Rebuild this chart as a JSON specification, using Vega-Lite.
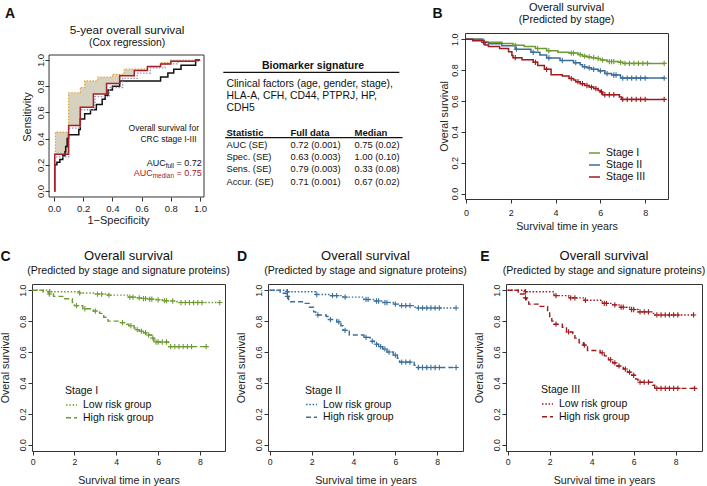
{
"$schema": "https://vega.github.io/schema/vega-lite/v6.json",
"padding": {"left": -2, "top": 1, "right": 2, "bottom": 0},
"background": "white",
"config": {
  "font": "Liberation Sans",
  "view": {"stroke": "#333", "strokeWidth": 1},
  "axis": {"domain": false, "grid": false, "tickColor": "#333", "tickSize": 4, "tickWidth": 1, "labelColor": "#222", "titleColor": "#222", "titleFontWeight": "normal", "labelFlush": false, "labelOverlap": false, "labelSeparation": -50, "labelBound": false, "labelFontSize": 9, "titleFontSize": 10.7},
  "axisY": {"labelAngle": -90, "labelAlign": "center", "labelBaseline": "alphabetic"},
  "title": {"fontWeight": "normal", "color": "#111", "subtitleColor": "#111", "frame": "group", "anchor": "middle"},
  "legend": {"labelFontSize": 10.5, "titleFontSize": 10.5, "titleFontWeight": "normal", "symbolType": "stroke", "symbolStrokeWidth": 1.5, "symbolSize": 121, "padding": 0, "rowPadding": 0.8, "labelOffset": 5, "titlePadding": 2, "labelColor": "#111", "titleColor": "#111"},
  "text": {"color": "#111"}
},
"datasets": {
  "roc": [
    {"k":"full","x":0,"y":0},{"k":"full","x":0.005,"y":0.2},{"k":"full","x":0.02,"y":0.22},{"k":"full","x":0.04,"y":0.24},{"k":"full","x":0.06,"y":0.27},{"k":"full","x":0.075,"y":0.3},{"k":"full","x":0.08,"y":0.34},{"k":"full","x":0.09,"y":0.4},{"k":"full","x":0.1,"y":0.43},{"k":"full","x":0.17,"y":0.47},{"k":"full","x":0.18,"y":0.55},{"k":"full","x":0.21,"y":0.59},{"k":"full","x":0.25,"y":0.62},{"k":"full","x":0.29,"y":0.66},{"k":"full","x":0.33,"y":0.7},{"k":"full","x":0.35,"y":0.73},{"k":"full","x":0.37,"y":0.77},{"k":"full","x":0.4,"y":0.8},{"k":"full","x":0.45,"y":0.84},{"k":"full","x":0.73,"y":0.87},{"k":"full","x":0.78,"y":0.9},{"k":"full","x":0.82,"y":0.93},{"k":"full","x":0.87,"y":0.96},{"k":"full","x":0.97,"y":1},{"k":"full","x":1,"y":1},
    {"k":"median","x":0,"y":0},{"k":"median","x":0.005,"y":0.28},{"k":"median","x":0.1,"y":0.5},{"k":"median","x":0.18,"y":0.64},{"k":"median","x":0.27,"y":0.74},{"k":"median","x":0.36,"y":0.82},{"k":"median","x":0.45,"y":0.88},{"k":"median","x":0.55,"y":0.92},{"k":"median","x":0.64,"y":0.95},{"k":"median","x":0.73,"y":0.97},{"k":"median","x":0.8,"y":0.99},{"k":"median","x":0.97,"y":1},{"k":"median","x":1,"y":1},
    {"k":"alt","x":0,"y":0},{"k":"alt","x":0.005,"y":0.26},{"k":"alt","x":0.1,"y":0.48},{"k":"alt","x":0.18,"y":0.62},{"k":"alt","x":0.28,"y":0.72},{"k":"alt","x":0.38,"y":0.79},{"k":"alt","x":0.47,"y":0.86},{"k":"alt","x":0.57,"y":0.9},{"k":"alt","x":0.66,"y":0.94},{"k":"alt","x":0.76,"y":0.97},{"k":"alt","x":0.85,"y":0.99},{"k":"alt","x":1,"y":1}
  ],
  "band": [
    {"x":0.005,"lo":0.28,"hi":0.28},{"x":0.01,"lo":0.28,"hi":0.45},{"x":0.1,"lo":0.5,"hi":0.75},{"x":0.18,"lo":0.64,"hi":0.79},{"x":0.21,"lo":0.64,"hi":0.84},{"x":0.27,"lo":0.74,"hi":0.84},{"x":0.3,"lo":0.74,"hi":0.87},{"x":0.36,"lo":0.82,"hi":0.87},{"x":0.4,"lo":0.82,"hi":0.89},{"x":0.45,"lo":0.88,"hi":0.89},{"x":0.48,"lo":0.88,"hi":0.93},{"x":0.55,"lo":0.92,"hi":0.93},{"x":0.64,"lo":0.95,"hi":0.95},{"x":0.73,"lo":0.97,"hi":0.98},{"x":0.8,"lo":0.99,"hi":1},{"x":0.97,"lo":1,"hi":1},{"x":1,"lo":1,"hi":1}
  ],
  "tbl": [
    {"r":1,"c":0,"label":"Clinical factors (age, gender, stage),","kind":"text"},
    {"r":2,"c":0,"label":"HLA-A, CFH, CD44, PTPRJ, HP,","kind":"text"},
    {"r":3,"c":0,"label":"CDH5","kind":"text"},
    {"r":5,"c":0,"label":"Statistic","kind":"head"},{"r":5,"c":1,"label":"Full data","kind":"head"},{"r":5,"c":2,"label":"Median","kind":"head"},
    {"r":6,"c":0,"label":"AUC (SE)","kind":"cell"},{"r":6,"c":1,"label":"0.72 (0.001)","kind":"cell"},{"r":6,"c":2,"label":"0.75 (0.02)","kind":"cell"},
    {"r":7,"c":0,"label":"Spec. (SE)","kind":"cell"},{"r":7,"c":1,"label":"0.63 (0.003)","kind":"cell"},{"r":7,"c":2,"label":"1.00 (0.10)","kind":"cell"},
    {"r":8,"c":0,"label":"Sens. (SE)","kind":"cell"},{"r":8,"c":1,"label":"0.79 (0.003)","kind":"cell"},{"r":8,"c":2,"label":"0.33 (0.08)","kind":"cell"},
    {"r":9,"c":0,"label":"Accur. (SE)","kind":"cell"},{"r":9,"c":1,"label":"0.71 (0.001)","kind":"cell"},{"r":9,"c":2,"label":"0.67 (0.02)","kind":"cell"}
  ],
  "surv": [
    {"p":"B","g":"Stage I","t":0,"s":1,"c":0},{"p":"B","g":"Stage I","t":0.7,"s":0.985,"c":0},{"p":"B","g":"Stage I","t":0.8,"s":0.985,"c":1},{"p":"B","g":"Stage I","t":0.9,"s":0.98,"c":0},{"p":"B","g":"Stage I","t":1.6,"s":0.972,"c":0},{"p":"B","g":"Stage I","t":2.1,"s":0.96,"c":0},{"p":"B","g":"Stage I","t":2.2,"s":0.96,"c":1},{"p":"B","g":"Stage I","t":2.6,"s":0.953,"c":0},{"p":"B","g":"Stage I","t":3.1,"s":0.94,"c":0},{"p":"B","g":"Stage I","t":3.2,"s":0.94,"c":1},{"p":"B","g":"Stage I","t":3.6,"s":0.925,"c":0},{"p":"B","g":"Stage I","t":3.7,"s":0.925,"c":1},{"p":"B","g":"Stage I","t":4.1,"s":0.915,"c":0},{"p":"B","g":"Stage I","t":4.6,"s":0.91,"c":0},{"p":"B","g":"Stage I","t":4.7,"s":0.91,"c":1},{"p":"B","g":"Stage I","t":4.8,"s":0.91,"c":1},{"p":"B","g":"Stage I","t":5.0,"s":0.9,"c":0},{"p":"B","g":"Stage I","t":5.1,"s":0.9,"c":1},{"p":"B","g":"Stage I","t":5.2,"s":0.89,"c":0},{"p":"B","g":"Stage I","t":5.3,"s":0.89,"c":1},{"p":"B","g":"Stage I","t":5.4,"s":0.885,"c":0},{"p":"B","g":"Stage I","t":5.5,"s":0.885,"c":1},{"p":"B","g":"Stage I","t":5.6,"s":0.88,"c":0},{"p":"B","g":"Stage I","t":5.7,"s":0.88,"c":1},{"p":"B","g":"Stage I","t":5.8,"s":0.875,"c":0},{"p":"B","g":"Stage I","t":5.9,"s":0.875,"c":1},{"p":"B","g":"Stage I","t":6.0,"s":0.865,"c":0},{"p":"B","g":"Stage I","t":6.1,"s":0.865,"c":1},{"p":"B","g":"Stage I","t":6.3,"s":0.855,"c":0},{"p":"B","g":"Stage I","t":6.4,"s":0.855,"c":1},{"p":"B","g":"Stage I","t":6.5,"s":0.855,"c":1},{"p":"B","g":"Stage I","t":6.6,"s":0.855,"c":1},{"p":"B","g":"Stage I","t":6.8,"s":0.85,"c":0},{"p":"B","g":"Stage I","t":6.9,"s":0.85,"c":1},{"p":"B","g":"Stage I","t":7.0,"s":0.843,"c":0},{"p":"B","g":"Stage I","t":7.1,"s":0.843,"c":1},{"p":"B","g":"Stage I","t":7.3,"s":0.843,"c":1},{"p":"B","g":"Stage I","t":7.5,"s":0.843,"c":1},{"p":"B","g":"Stage I","t":7.7,"s":0.843,"c":1},{"p":"B","g":"Stage I","t":7.9,"s":0.843,"c":1},{"p":"B","g":"Stage I","t":8.1,"s":0.843,"c":1},{"p":"B","g":"Stage I","t":8.85,"s":0.843,"c":1},
    {"p":"B","g":"Stage II","t":0,"s":1,"c":0},{"p":"B","g":"Stage II","t":0.75,"s":0.98,"c":0},{"p":"B","g":"Stage II","t":0.8,"s":0.98,"c":1},{"p":"B","g":"Stage II","t":1.0,"s":0.97,"c":0},{"p":"B","g":"Stage II","t":1.6,"s":0.958,"c":0},{"p":"B","g":"Stage II","t":2.2,"s":0.935,"c":0},{"p":"B","g":"Stage II","t":2.25,"s":0.935,"c":1},{"p":"B","g":"Stage II","t":2.9,"s":0.915,"c":0},{"p":"B","g":"Stage II","t":3.0,"s":0.915,"c":1},{"p":"B","g":"Stage II","t":3.3,"s":0.897,"c":0},{"p":"B","g":"Stage II","t":3.6,"s":0.878,"c":0},{"p":"B","g":"Stage II","t":3.7,"s":0.878,"c":1},{"p":"B","g":"Stage II","t":4.2,"s":0.862,"c":0},{"p":"B","g":"Stage II","t":4.3,"s":0.862,"c":1},{"p":"B","g":"Stage II","t":4.8,"s":0.848,"c":0},{"p":"B","g":"Stage II","t":4.9,"s":0.848,"c":1},{"p":"B","g":"Stage II","t":5.1,"s":0.835,"c":0},{"p":"B","g":"Stage II","t":5.2,"s":0.822,"c":0},{"p":"B","g":"Stage II","t":5.3,"s":0.822,"c":1},{"p":"B","g":"Stage II","t":5.4,"s":0.815,"c":0},{"p":"B","g":"Stage II","t":5.5,"s":0.815,"c":1},{"p":"B","g":"Stage II","t":5.6,"s":0.805,"c":0},{"p":"B","g":"Stage II","t":5.7,"s":0.805,"c":1},{"p":"B","g":"Stage II","t":5.9,"s":0.795,"c":0},{"p":"B","g":"Stage II","t":6.0,"s":0.795,"c":1},{"p":"B","g":"Stage II","t":6.2,"s":0.777,"c":0},{"p":"B","g":"Stage II","t":6.3,"s":0.777,"c":1},{"p":"B","g":"Stage II","t":6.5,"s":0.768,"c":0},{"p":"B","g":"Stage II","t":6.6,"s":0.768,"c":1},{"p":"B","g":"Stage II","t":6.7,"s":0.768,"c":1},{"p":"B","g":"Stage II","t":6.9,"s":0.748,"c":0},{"p":"B","g":"Stage II","t":7.0,"s":0.748,"c":1},{"p":"B","g":"Stage II","t":7.2,"s":0.748,"c":1},{"p":"B","g":"Stage II","t":7.4,"s":0.748,"c":1},{"p":"B","g":"Stage II","t":7.6,"s":0.748,"c":1},{"p":"B","g":"Stage II","t":7.8,"s":0.748,"c":1},{"p":"B","g":"Stage II","t":8.0,"s":0.748,"c":1},{"p":"B","g":"Stage II","t":8.85,"s":0.748,"c":1},
    {"p":"B","g":"Stage III","t":0,"s":1,"c":0},{"p":"B","g":"Stage III","t":0.3,"s":0.99,"c":0},{"p":"B","g":"Stage III","t":0.75,"s":0.978,"c":0},{"p":"B","g":"Stage III","t":0.8,"s":0.978,"c":1},{"p":"B","g":"Stage III","t":0.85,"s":0.962,"c":0},{"p":"B","g":"Stage III","t":1.0,"s":0.952,"c":0},{"p":"B","g":"Stage III","t":1.5,"s":0.94,"c":0},{"p":"B","g":"Stage III","t":1.9,"s":0.918,"c":0},{"p":"B","g":"Stage III","t":2.05,"s":0.895,"c":0},{"p":"B","g":"Stage III","t":2.1,"s":0.88,"c":0},{"p":"B","g":"Stage III","t":2.2,"s":0.88,"c":1},{"p":"B","g":"Stage III","t":2.5,"s":0.866,"c":0},{"p":"B","g":"Stage III","t":3.0,"s":0.85,"c":0},{"p":"B","g":"Stage III","t":3.1,"s":0.85,"c":1},{"p":"B","g":"Stage III","t":3.2,"s":0.83,"c":0},{"p":"B","g":"Stage III","t":3.5,"s":0.805,"c":0},{"p":"B","g":"Stage III","t":3.6,"s":0.805,"c":1},{"p":"B","g":"Stage III","t":3.8,"s":0.77,"c":0},{"p":"B","g":"Stage III","t":4.3,"s":0.762,"c":0},{"p":"B","g":"Stage III","t":4.6,"s":0.745,"c":0},{"p":"B","g":"Stage III","t":4.7,"s":0.745,"c":1},{"p":"B","g":"Stage III","t":4.8,"s":0.735,"c":0},{"p":"B","g":"Stage III","t":4.9,"s":0.725,"c":0},{"p":"B","g":"Stage III","t":5.0,"s":0.725,"c":1},{"p":"B","g":"Stage III","t":5.1,"s":0.712,"c":0},{"p":"B","g":"Stage III","t":5.2,"s":0.712,"c":1},{"p":"B","g":"Stage III","t":5.3,"s":0.7,"c":0},{"p":"B","g":"Stage III","t":5.4,"s":0.7,"c":1},{"p":"B","g":"Stage III","t":5.5,"s":0.69,"c":0},{"p":"B","g":"Stage III","t":5.6,"s":0.69,"c":1},{"p":"B","g":"Stage III","t":5.7,"s":0.68,"c":0},{"p":"B","g":"Stage III","t":5.8,"s":0.68,"c":1},{"p":"B","g":"Stage III","t":5.9,"s":0.668,"c":0},{"p":"B","g":"Stage III","t":6.0,"s":0.658,"c":0},{"p":"B","g":"Stage III","t":6.05,"s":0.658,"c":1},{"p":"B","g":"Stage III","t":6.1,"s":0.64,"c":0},{"p":"B","g":"Stage III","t":6.2,"s":0.64,"c":1},{"p":"B","g":"Stage III","t":6.4,"s":0.64,"c":1},{"p":"B","g":"Stage III","t":6.6,"s":0.64,"c":1},{"p":"B","g":"Stage III","t":6.85,"s":0.625,"c":0},{"p":"B","g":"Stage III","t":6.95,"s":0.61,"c":0},{"p":"B","g":"Stage III","t":7.0,"s":0.61,"c":1},{"p":"B","g":"Stage III","t":7.2,"s":0.61,"c":1},{"p":"B","g":"Stage III","t":7.4,"s":0.61,"c":1},{"p":"B","g":"Stage III","t":7.6,"s":0.61,"c":1},{"p":"B","g":"Stage III","t":7.8,"s":0.61,"c":1},{"p":"B","g":"Stage III","t":8.0,"s":0.61,"c":1},{"p":"B","g":"Stage III","t":8.85,"s":0.61,"c":1},
    {"p":"C","g":"Low risk group","t":0,"s":1,"c":0},{"p":"C","g":"Low risk group","t":0.8,"s":0.99,"c":0},{"p":"C","g":"Low risk group","t":0.82,"s":0.99,"c":1},{"p":"C","g":"Low risk group","t":2.2,"s":0.982,"c":0},{"p":"C","g":"Low risk group","t":2.25,"s":0.982,"c":1},{"p":"C","g":"Low risk group","t":3.0,"s":0.975,"c":0},{"p":"C","g":"Low risk group","t":3.1,"s":0.975,"c":1},{"p":"C","g":"Low risk group","t":3.3,"s":0.975,"c":1},{"p":"C","g":"Low risk group","t":3.6,"s":0.968,"c":0},{"p":"C","g":"Low risk group","t":3.65,"s":0.968,"c":1},{"p":"C","g":"Low risk group","t":4.6,"s":0.955,"c":0},{"p":"C","g":"Low risk group","t":4.65,"s":0.955,"c":1},{"p":"C","g":"Low risk group","t":4.8,"s":0.955,"c":1},{"p":"C","g":"Low risk group","t":5.0,"s":0.95,"c":0},{"p":"C","g":"Low risk group","t":5.1,"s":0.95,"c":1},{"p":"C","g":"Low risk group","t":5.2,"s":0.946,"c":0},{"p":"C","g":"Low risk group","t":5.3,"s":0.946,"c":1},{"p":"C","g":"Low risk group","t":5.4,"s":0.946,"c":1},{"p":"C","g":"Low risk group","t":5.5,"s":0.942,"c":0},{"p":"C","g":"Low risk group","t":5.6,"s":0.942,"c":1},{"p":"C","g":"Low risk group","t":5.7,"s":0.942,"c":1},{"p":"C","g":"Low risk group","t":5.9,"s":0.938,"c":0},{"p":"C","g":"Low risk group","t":6.0,"s":0.938,"c":1},{"p":"C","g":"Low risk group","t":6.2,"s":0.932,"c":0},{"p":"C","g":"Low risk group","t":6.3,"s":0.932,"c":1},{"p":"C","g":"Low risk group","t":6.4,"s":0.932,"c":1},{"p":"C","g":"Low risk group","t":6.6,"s":0.93,"c":0},{"p":"C","g":"Low risk group","t":6.7,"s":0.93,"c":1},{"p":"C","g":"Low risk group","t":6.9,"s":0.925,"c":0},{"p":"C","g":"Low risk group","t":7.0,"s":0.92,"c":0},{"p":"C","g":"Low risk group","t":7.1,"s":0.92,"c":1},{"p":"C","g":"Low risk group","t":7.3,"s":0.92,"c":1},{"p":"C","g":"Low risk group","t":7.5,"s":0.92,"c":1},{"p":"C","g":"Low risk group","t":7.7,"s":0.92,"c":1},{"p":"C","g":"Low risk group","t":7.9,"s":0.92,"c":1},{"p":"C","g":"Low risk group","t":8.1,"s":0.92,"c":1},{"p":"C","g":"Low risk group","t":8.95,"s":0.92,"c":1},
    {"p":"C","g":"High risk group","t":0,"s":1,"c":0},{"p":"C","g":"High risk group","t":0.5,"s":0.99,"c":0},{"p":"C","g":"High risk group","t":0.78,"s":0.975,"c":0},{"p":"C","g":"High risk group","t":0.8,"s":0.975,"c":1},{"p":"C","g":"High risk group","t":1.0,"s":0.96,"c":0},{"p":"C","g":"High risk group","t":1.5,"s":0.945,"c":0},{"p":"C","g":"High risk group","t":1.9,"s":0.92,"c":0},{"p":"C","g":"High risk group","t":2.0,"s":0.9,"c":0},{"p":"C","g":"High risk group","t":2.1,"s":0.9,"c":1},{"p":"C","g":"High risk group","t":2.4,"s":0.88,"c":0},{"p":"C","g":"High risk group","t":2.5,"s":0.88,"c":1},{"p":"C","g":"High risk group","t":2.9,"s":0.865,"c":0},{"p":"C","g":"High risk group","t":3.0,"s":0.865,"c":1},{"p":"C","g":"High risk group","t":3.2,"s":0.85,"c":0},{"p":"C","g":"High risk group","t":3.4,"s":0.825,"c":0},{"p":"C","g":"High risk group","t":3.6,"s":0.8,"c":0},{"p":"C","g":"High risk group","t":4.2,"s":0.79,"c":0},{"p":"C","g":"High risk group","t":4.3,"s":0.79,"c":1},{"p":"C","g":"High risk group","t":4.5,"s":0.78,"c":0},{"p":"C","g":"High risk group","t":4.6,"s":0.77,"c":0},{"p":"C","g":"High risk group","t":4.7,"s":0.77,"c":1},{"p":"C","g":"High risk group","t":4.85,"s":0.755,"c":0},{"p":"C","g":"High risk group","t":4.95,"s":0.745,"c":0},{"p":"C","g":"High risk group","t":5.0,"s":0.745,"c":1},{"p":"C","g":"High risk group","t":5.1,"s":0.735,"c":0},{"p":"C","g":"High risk group","t":5.2,"s":0.735,"c":1},{"p":"C","g":"High risk group","t":5.3,"s":0.725,"c":0},{"p":"C","g":"High risk group","t":5.4,"s":0.725,"c":1},{"p":"C","g":"High risk group","t":5.5,"s":0.71,"c":0},{"p":"C","g":"High risk group","t":5.55,"s":0.71,"c":1},{"p":"C","g":"High risk group","t":5.7,"s":0.69,"c":0},{"p":"C","g":"High risk group","t":5.75,"s":0.69,"c":1},{"p":"C","g":"High risk group","t":5.8,"s":0.665,"c":0},{"p":"C","g":"High risk group","t":5.9,"s":0.665,"c":1},{"p":"C","g":"High risk group","t":6.0,"s":0.665,"c":1},{"p":"C","g":"High risk group","t":6.2,"s":0.665,"c":1},{"p":"C","g":"High risk group","t":6.4,"s":0.665,"c":1},{"p":"C","g":"High risk group","t":6.5,"s":0.635,"c":0},{"p":"C","g":"High risk group","t":6.6,"s":0.635,"c":1},{"p":"C","g":"High risk group","t":6.8,"s":0.635,"c":1},{"p":"C","g":"High risk group","t":7.0,"s":0.635,"c":1},{"p":"C","g":"High risk group","t":7.2,"s":0.635,"c":1},{"p":"C","g":"High risk group","t":7.4,"s":0.635,"c":1},{"p":"C","g":"High risk group","t":7.6,"s":0.635,"c":1},{"p":"C","g":"High risk group","t":8.3,"s":0.635,"c":1},
    {"p":"D","g":"Low risk group","t":0,"s":1,"c":0},{"p":"D","g":"Low risk group","t":0.8,"s":0.99,"c":0},{"p":"D","g":"Low risk group","t":0.85,"s":0.99,"c":1},{"p":"D","g":"Low risk group","t":2.2,"s":0.972,"c":0},{"p":"D","g":"Low risk group","t":2.25,"s":0.972,"c":1},{"p":"D","g":"Low risk group","t":2.9,"s":0.965,"c":0},{"p":"D","g":"Low risk group","t":3.0,"s":0.965,"c":1},{"p":"D","g":"Low risk group","t":3.2,"s":0.965,"c":1},{"p":"D","g":"Low risk group","t":3.5,"s":0.955,"c":0},{"p":"D","g":"Low risk group","t":3.6,"s":0.955,"c":1},{"p":"D","g":"Low risk group","t":4.5,"s":0.94,"c":0},{"p":"D","g":"Low risk group","t":4.6,"s":0.94,"c":1},{"p":"D","g":"Low risk group","t":4.7,"s":0.94,"c":1},{"p":"D","g":"Low risk group","t":5.0,"s":0.93,"c":0},{"p":"D","g":"Low risk group","t":5.1,"s":0.93,"c":1},{"p":"D","g":"Low risk group","t":5.2,"s":0.93,"c":1},{"p":"D","g":"Low risk group","t":5.4,"s":0.92,"c":0},{"p":"D","g":"Low risk group","t":5.5,"s":0.92,"c":1},{"p":"D","g":"Low risk group","t":5.6,"s":0.92,"c":1},{"p":"D","g":"Low risk group","t":5.9,"s":0.91,"c":0},{"p":"D","g":"Low risk group","t":6.0,"s":0.91,"c":1},{"p":"D","g":"Low risk group","t":6.2,"s":0.9,"c":0},{"p":"D","g":"Low risk group","t":6.3,"s":0.9,"c":1},{"p":"D","g":"Low risk group","t":6.5,"s":0.9,"c":1},{"p":"D","g":"Low risk group","t":6.7,"s":0.9,"c":1},{"p":"D","g":"Low risk group","t":6.9,"s":0.89,"c":0},{"p":"D","g":"Low risk group","t":7.0,"s":0.885,"c":0},{"p":"D","g":"Low risk group","t":7.1,"s":0.885,"c":1},{"p":"D","g":"Low risk group","t":7.3,"s":0.885,"c":1},{"p":"D","g":"Low risk group","t":7.5,"s":0.885,"c":1},{"p":"D","g":"Low risk group","t":7.7,"s":0.885,"c":1},{"p":"D","g":"Low risk group","t":7.9,"s":0.885,"c":1},{"p":"D","g":"Low risk group","t":8.1,"s":0.885,"c":1},{"p":"D","g":"Low risk group","t":8.9,"s":0.885,"c":1},
    {"p":"D","g":"High risk group","t":0,"s":1,"c":0},{"p":"D","g":"High risk group","t":0.5,"s":0.98,"c":0},{"p":"D","g":"High risk group","t":0.8,"s":0.96,"c":0},{"p":"D","g":"High risk group","t":0.85,"s":0.96,"c":1},{"p":"D","g":"High risk group","t":0.9,"s":0.94,"c":0},{"p":"D","g":"High risk group","t":1.0,"s":0.925,"c":0},{"p":"D","g":"High risk group","t":1.6,"s":0.915,"c":0},{"p":"D","g":"High risk group","t":1.9,"s":0.89,"c":0},{"p":"D","g":"High risk group","t":2.1,"s":0.86,"c":0},{"p":"D","g":"High risk group","t":2.2,"s":0.84,"c":0},{"p":"D","g":"High risk group","t":2.3,"s":0.84,"c":1},{"p":"D","g":"High risk group","t":2.7,"s":0.83,"c":0},{"p":"D","g":"High risk group","t":2.8,"s":0.81,"c":0},{"p":"D","g":"High risk group","t":2.9,"s":0.81,"c":1},{"p":"D","g":"High risk group","t":3.2,"s":0.795,"c":0},{"p":"D","g":"High risk group","t":3.3,"s":0.795,"c":1},{"p":"D","g":"High risk group","t":3.4,"s":0.77,"c":0},{"p":"D","g":"High risk group","t":3.5,"s":0.74,"c":0},{"p":"D","g":"High risk group","t":3.6,"s":0.74,"c":1},{"p":"D","g":"High risk group","t":3.8,"s":0.71,"c":0},{"p":"D","g":"High risk group","t":4.5,"s":0.695,"c":0},{"p":"D","g":"High risk group","t":4.6,"s":0.695,"c":1},{"p":"D","g":"High risk group","t":4.8,"s":0.67,"c":0},{"p":"D","g":"High risk group","t":4.9,"s":0.67,"c":1},{"p":"D","g":"High risk group","t":5.0,"s":0.65,"c":0},{"p":"D","g":"High risk group","t":5.1,"s":0.65,"c":1},{"p":"D","g":"High risk group","t":5.2,"s":0.635,"c":0},{"p":"D","g":"High risk group","t":5.3,"s":0.635,"c":1},{"p":"D","g":"High risk group","t":5.4,"s":0.62,"c":0},{"p":"D","g":"High risk group","t":5.5,"s":0.62,"c":1},{"p":"D","g":"High risk group","t":5.6,"s":0.6,"c":0},{"p":"D","g":"High risk group","t":5.7,"s":0.6,"c":1},{"p":"D","g":"High risk group","t":5.9,"s":0.58,"c":0},{"p":"D","g":"High risk group","t":6.0,"s":0.58,"c":1},{"p":"D","g":"High risk group","t":6.1,"s":0.56,"c":0},{"p":"D","g":"High risk group","t":6.2,"s":0.535,"c":0},{"p":"D","g":"High risk group","t":6.3,"s":0.535,"c":1},{"p":"D","g":"High risk group","t":6.5,"s":0.535,"c":1},{"p":"D","g":"High risk group","t":6.7,"s":0.535,"c":1},{"p":"D","g":"High risk group","t":6.9,"s":0.515,"c":0},{"p":"D","g":"High risk group","t":7.0,"s":0.5,"c":0},{"p":"D","g":"High risk group","t":7.1,"s":0.5,"c":1},{"p":"D","g":"High risk group","t":7.3,"s":0.5,"c":1},{"p":"D","g":"High risk group","t":7.5,"s":0.5,"c":1},{"p":"D","g":"High risk group","t":7.7,"s":0.5,"c":1},{"p":"D","g":"High risk group","t":7.9,"s":0.5,"c":1},{"p":"D","g":"High risk group","t":8.1,"s":0.5,"c":1},{"p":"D","g":"High risk group","t":8.9,"s":0.5,"c":1},
    {"p":"E","g":"Low risk group","t":0,"s":1,"c":0},{"p":"E","g":"Low risk group","t":0.8,"s":0.99,"c":0},{"p":"E","g":"Low risk group","t":0.85,"s":0.99,"c":1},{"p":"E","g":"Low risk group","t":2.2,"s":0.965,"c":0},{"p":"E","g":"Low risk group","t":2.3,"s":0.965,"c":1},{"p":"E","g":"Low risk group","t":2.9,"s":0.95,"c":0},{"p":"E","g":"Low risk group","t":3.0,"s":0.95,"c":1},{"p":"E","g":"Low risk group","t":3.2,"s":0.95,"c":1},{"p":"E","g":"Low risk group","t":3.6,"s":0.935,"c":0},{"p":"E","g":"Low risk group","t":3.7,"s":0.935,"c":1},{"p":"E","g":"Low risk group","t":4.5,"s":0.915,"c":0},{"p":"E","g":"Low risk group","t":4.6,"s":0.915,"c":1},{"p":"E","g":"Low risk group","t":4.7,"s":0.915,"c":1},{"p":"E","g":"Low risk group","t":5.0,"s":0.905,"c":0},{"p":"E","g":"Low risk group","t":5.1,"s":0.905,"c":1},{"p":"E","g":"Low risk group","t":5.3,"s":0.89,"c":0},{"p":"E","g":"Low risk group","t":5.4,"s":0.89,"c":1},{"p":"E","g":"Low risk group","t":5.5,"s":0.89,"c":1},{"p":"E","g":"Low risk group","t":5.8,"s":0.875,"c":0},{"p":"E","g":"Low risk group","t":5.9,"s":0.875,"c":1},{"p":"E","g":"Low risk group","t":6.0,"s":0.875,"c":1},{"p":"E","g":"Low risk group","t":6.2,"s":0.86,"c":0},{"p":"E","g":"Low risk group","t":6.3,"s":0.86,"c":1},{"p":"E","g":"Low risk group","t":6.5,"s":0.86,"c":1},{"p":"E","g":"Low risk group","t":6.7,"s":0.86,"c":1},{"p":"E","g":"Low risk group","t":6.9,"s":0.85,"c":0},{"p":"E","g":"Low risk group","t":7.0,"s":0.84,"c":0},{"p":"E","g":"Low risk group","t":7.1,"s":0.84,"c":1},{"p":"E","g":"Low risk group","t":7.3,"s":0.84,"c":1},{"p":"E","g":"Low risk group","t":7.5,"s":0.84,"c":1},{"p":"E","g":"Low risk group","t":7.7,"s":0.84,"c":1},{"p":"E","g":"Low risk group","t":7.9,"s":0.84,"c":1},{"p":"E","g":"Low risk group","t":8.1,"s":0.84,"c":1},{"p":"E","g":"Low risk group","t":8.85,"s":0.84,"c":1},
    {"p":"E","g":"High risk group","t":0,"s":1,"c":0},{"p":"E","g":"High risk group","t":0.5,"s":0.975,"c":0},{"p":"E","g":"High risk group","t":0.8,"s":0.95,"c":0},{"p":"E","g":"High risk group","t":0.85,"s":0.95,"c":1},{"p":"E","g":"High risk group","t":0.9,"s":0.93,"c":0},{"p":"E","g":"High risk group","t":1.0,"s":0.91,"c":0},{"p":"E","g":"High risk group","t":1.5,"s":0.895,"c":0},{"p":"E","g":"High risk group","t":1.9,"s":0.86,"c":0},{"p":"E","g":"High risk group","t":2.0,"s":0.83,"c":0},{"p":"E","g":"High risk group","t":2.1,"s":0.8,"c":0},{"p":"E","g":"High risk group","t":2.2,"s":0.78,"c":0},{"p":"E","g":"High risk group","t":2.3,"s":0.78,"c":1},{"p":"E","g":"High risk group","t":2.6,"s":0.76,"c":0},{"p":"E","g":"High risk group","t":2.8,"s":0.73,"c":0},{"p":"E","g":"High risk group","t":2.9,"s":0.73,"c":1},{"p":"E","g":"High risk group","t":3.1,"s":0.72,"c":0},{"p":"E","g":"High risk group","t":3.2,"s":0.69,"c":0},{"p":"E","g":"High risk group","t":3.4,"s":0.66,"c":0},{"p":"E","g":"High risk group","t":3.6,"s":0.645,"c":0},{"p":"E","g":"High risk group","t":3.65,"s":0.645,"c":1},{"p":"E","g":"High risk group","t":3.8,"s":0.61,"c":0},{"p":"E","g":"High risk group","t":4.4,"s":0.595,"c":0},{"p":"E","g":"High risk group","t":4.5,"s":0.595,"c":1},{"p":"E","g":"High risk group","t":4.6,"s":0.575,"c":0},{"p":"E","g":"High risk group","t":4.8,"s":0.55,"c":0},{"p":"E","g":"High risk group","t":4.9,"s":0.55,"c":1},{"p":"E","g":"High risk group","t":5.0,"s":0.53,"c":0},{"p":"E","g":"High risk group","t":5.1,"s":0.53,"c":1},{"p":"E","g":"High risk group","t":5.2,"s":0.51,"c":0},{"p":"E","g":"High risk group","t":5.3,"s":0.51,"c":1},{"p":"E","g":"High risk group","t":5.5,"s":0.49,"c":0},{"p":"E","g":"High risk group","t":5.6,"s":0.49,"c":1},{"p":"E","g":"High risk group","t":5.7,"s":0.47,"c":0},{"p":"E","g":"High risk group","t":5.8,"s":0.47,"c":1},{"p":"E","g":"High risk group","t":5.9,"s":0.45,"c":0},{"p":"E","g":"High risk group","t":6.0,"s":0.45,"c":1},{"p":"E","g":"High risk group","t":6.1,"s":0.425,"c":0},{"p":"E","g":"High risk group","t":6.2,"s":0.405,"c":0},{"p":"E","g":"High risk group","t":6.3,"s":0.405,"c":1},{"p":"E","g":"High risk group","t":6.5,"s":0.405,"c":1},{"p":"E","g":"High risk group","t":6.7,"s":0.405,"c":1},{"p":"E","g":"High risk group","t":6.9,"s":0.385,"c":0},{"p":"E","g":"High risk group","t":7.0,"s":0.365,"c":0},{"p":"E","g":"High risk group","t":7.1,"s":0.365,"c":1},{"p":"E","g":"High risk group","t":7.3,"s":0.365,"c":1},{"p":"E","g":"High risk group","t":7.5,"s":0.365,"c":1},{"p":"E","g":"High risk group","t":7.7,"s":0.365,"c":1},{"p":"E","g":"High risk group","t":7.9,"s":0.365,"c":1},{"p":"E","g":"High risk group","t":8.1,"s":0.365,"c":1},{"p":"E","g":"High risk group","t":8.9,"s":0.365,"c":1}
  ]
},
"spacing": 17,
"resolve": {"scale": {"color": "independent", "strokeDash": "independent"}, "legend": {"color": "independent", "strokeDash": "independent"}},
"vconcat": [
 {
  "bounds": "flush",
  "spacing": 18,
  "resolve": {"scale": {"color": "independent"}, "legend": {"color": "independent"}},
  "hconcat": [
  {
    "width": 172, "height": 167,
    "view": {"stroke": null},
    "title": {"text": "5-year overall survival", "subtitle": "(Cox regression)", "frame": "group", "fontSize": 11.8, "subtitleFontSize": 10.3, "subtitlePadding": 1, "offset": -41, "dx": 9},
    "layer": [
      {"data": {"name": "band"}, "mark": {"type": "area", "interpolate": "step-after", "color": "#d7d1bf", "opacity": 1},
       "encoding": {
         "x": {"field": "x", "type": "quantitative", "title": "1−Specificity", "scale": {"domain": [-0.1507, 1.0274], "nice": false, "zero": false},
               "axis": {"values": [0, 0.2, 0.4, 0.6, 0.8, 1], "tickCount": 6, "format": ".1f", "labelOverlap": false, "offset": -3, "labelFontSize": 9.5, "titleFontSize": 11, "labelPadding": 2, "titlePadding": 2}},
         "y": {"field": "lo", "type": "quantitative", "title": "Sensitivity", "scale": {"domain": [-0.0687, 1.206], "nice": false, "zero": false},
               "axis": {"values": [0, 0.2, 0.4, 0.6, 0.8, 1], "tickCount": 6, "format": ".1f", "labelOverlap": false, "offset": -17, "labelFontSize": 9.5, "titleFontSize": 11, "labelPadding": 2, "titlePadding": 3}},
         "y2": {"field": "hi"}}},
      {"data": {"name": "band"}, "mark": {"type": "line", "interpolate": "step-after", "color": "#e0a33b", "strokeDash": [1.5, 1.5], "strokeWidth": 1.2},
       "encoding": {
         "x": {"field": "x", "type": "quantitative", "title": "1−Specificity", "scale": {"domain": [-0.1507, 1.0274], "nice": false, "zero": false}},
         "y": {"field": "hi", "type": "quantitative", "title": "Sensitivity", "scale": {"domain": [-0.0687, 1.206], "nice": false, "zero": false}}}},
      {"data": {"name": "roc"}, "transform": [{"filter": "datum.k == 'full'"}], "mark": {"type": "line", "interpolate": "step-after", "color": "#111", "strokeWidth": 1.5},
       "encoding": {
         "x": {"field": "x", "type": "quantitative", "title": "1−Specificity", "scale": {"domain": [-0.1507, 1.0274], "nice": false, "zero": false}},
         "y": {"field": "y", "type": "quantitative", "title": "Sensitivity", "scale": {"domain": [-0.0687, 1.206], "nice": false, "zero": false}}}},
      {"data": {"name": "roc"}, "transform": [{"filter": "datum.k == 'alt'"}], "mark": {"type": "line", "interpolate": "step-after", "color": "#9a94b4", "strokeDash": [1.5, 1.5], "strokeWidth": 1.3},
       "encoding": {
         "x": {"field": "x", "type": "quantitative", "title": "1−Specificity", "scale": {"domain": [-0.1507, 1.0274], "nice": false, "zero": false}},
         "y": {"field": "y", "type": "quantitative", "title": "Sensitivity", "scale": {"domain": [-0.0687, 1.206], "nice": false, "zero": false}}}},
      {"data": {"name": "roc"}, "transform": [{"filter": "datum.k == 'median'"}], "mark": {"type": "line", "interpolate": "step-after", "color": "#a8202a", "strokeWidth": 1.5},
       "encoding": {
         "x": {"field": "x", "type": "quantitative", "title": "1−Specificity", "scale": {"domain": [-0.1507, 1.0274], "nice": false, "zero": false}},
         "y": {"field": "y", "type": "quantitative", "title": "Sensitivity", "scale": {"domain": [-0.0687, 1.206], "nice": false, "zero": false}}}},
      {"data": {"values": [{}]}, "mark": {"type": "rect", "filled": false, "color": "#333", "strokeWidth": 1},
       "encoding": {
         "x": {"datum": -0.034, "type": "quantitative", "scale": {"domain": [-0.1507, 1.0274], "nice": false, "zero": false}},
         "x2": {"datum": 1.0274},
         "y": {"datum": -0.0458, "type": "quantitative", "scale": {"domain": [-0.0687, 1.206], "nice": false, "zero": false}},
         "y2": {"datum": 1.038}}},
      {"data": {"values": [{}]}, "mark": {"type": "text", "text": "A", "fontWeight": "bold", "fontSize": 14, "align": "center", "baseline": "middle", "opacity": 0},
       "encoding": {
         "x": {"datum": -0.332, "type": "quantitative", "scale": {"domain": [-0.1507, 1.0274], "nice": false, "zero": false}},
         "y": {"datum": 1.351, "type": "quantitative", "scale": {"domain": [-0.0687, 1.206], "nice": false, "zero": false}}}},
      {"data": {"values": [{}]}, "mark": {"type": "text", "text": "A", "fontWeight": "bold", "fontSize": 14, "align": "center", "baseline": "middle"},
       "encoding": {
         "x": {"datum": -0.301, "type": "quantitative", "scale": {"domain": [-0.1507, 1.0274], "nice": false, "zero": false}},
         "y": {"datum": 1.351, "type": "quantitative", "scale": {"domain": [-0.0687, 1.206], "nice": false, "zero": false}}}},
      {"data": {"values": [{}]}, "mark": {"type": "text", "text": "Overall survival for", "fontSize": 8.5, "align": "right", "baseline": "middle"},
       "encoding": {
         "x": {"datum": 0.993, "type": "quantitative", "scale": {"domain": [-0.1507, 1.0274], "nice": false, "zero": false}},
         "y": {"datum": 0.479, "type": "quantitative", "scale": {"domain": [-0.0687, 1.206], "nice": false, "zero": false}}}},
      {"data": {"values": [{}]}, "mark": {"type": "text", "text": "CRC stage I-III", "fontSize": 8.5, "align": "right", "baseline": "middle"},
       "encoding": {
         "x": {"datum": 0.977, "type": "quantitative", "scale": {"domain": [-0.1507, 1.0274], "nice": false, "zero": false}},
         "y": {"datum": 0.395, "type": "quantitative", "scale": {"domain": [-0.0687, 1.206], "nice": false, "zero": false}}}},
      {"data": {"values": [{}]}, "mark": {"type": "text", "text": "AUC", "fontSize": 9, "align": "right", "baseline": "middle"},
       "encoding": {
         "x": {"datum": 0.765, "type": "quantitative", "scale": {"domain": [-0.1507, 1.0274], "nice": false, "zero": false}},
         "y": {"datum": 0.211, "type": "quantitative", "scale": {"domain": [-0.0687, 1.206], "nice": false, "zero": false}}}},
      {"data": {"values": [{}]}, "mark": {"type": "text", "text": "full", "fontSize": 6.5, "align": "right", "baseline": "middle"},
       "encoding": {
         "x": {"datum": 0.822, "type": "quantitative", "scale": {"domain": [-0.1507, 1.0274], "nice": false, "zero": false}},
         "y": {"datum": 0.193, "type": "quantitative", "scale": {"domain": [-0.0687, 1.206], "nice": false, "zero": false}}}},
      {"data": {"values": [{}]}, "mark": {"type": "text", "text": "= 0.72", "fontSize": 9, "align": "right", "baseline": "middle"},
       "encoding": {
         "x": {"datum": 1.012, "type": "quantitative", "scale": {"domain": [-0.1507, 1.0274], "nice": false, "zero": false}},
         "y": {"datum": 0.211, "type": "quantitative", "scale": {"domain": [-0.0687, 1.206], "nice": false, "zero": false}}}},
      {"data": {"values": [{}]}, "mark": {"type": "text", "text": "AUC", "fontSize": 9, "align": "right", "baseline": "middle", "color": "#a8202a"},
       "encoding": {
         "x": {"datum": 0.676, "type": "quantitative", "scale": {"domain": [-0.1507, 1.0274], "nice": false, "zero": false}},
         "y": {"datum": 0.135, "type": "quantitative", "scale": {"domain": [-0.0687, 1.206], "nice": false, "zero": false}}}},
      {"data": {"values": [{}]}, "mark": {"type": "text", "text": "median", "fontSize": 6.5, "align": "right", "baseline": "middle", "color": "#a8202a"},
       "encoding": {
         "x": {"datum": 0.822, "type": "quantitative", "scale": {"domain": [-0.1507, 1.0274], "nice": false, "zero": false}},
         "y": {"datum": 0.117, "type": "quantitative", "scale": {"domain": [-0.0687, 1.206], "nice": false, "zero": false}}}},
      {"data": {"values": [{}]}, "mark": {"type": "text", "text": "= 0.75", "fontSize": 9, "align": "right", "baseline": "middle", "color": "#a8202a"},
       "encoding": {
         "x": {"datum": 1.012, "type": "quantitative", "scale": {"domain": [-0.1507, 1.0274], "nice": false, "zero": false}},
         "y": {"datum": 0.135, "type": "quantitative", "scale": {"domain": [-0.0687, 1.206], "nice": false, "zero": false}}}}
    ]
  },
  {
    "width": 225, "height": 167,
    "view": {"stroke": null},
    "title": {"text": "Biomarker signature", "frame": "group", "fontWeight": "bold", "fontSize": 10.5, "offset": -38, "dx": -21.5},
    "layer": [
      {"data": {"name": "tbl"}, "transform": [{"filter": "datum.kind == 'text'"}], "mark": {"type": "text", "align": "left", "baseline": "middle", "fontSize": 10.4},
       "encoding": {
         "x": {"field": "c", "type": "quantitative", "scale": {"domain": [-0.0703, 3.445], "nice": false, "zero": false}, "axis": null},
         "y": {"field": "r", "type": "quantitative", "scale": {"domain": [-3.18, 10.51], "reverse": true, "nice": false, "zero": false}, "axis": null},
         "text": {"field": "label"}}},
      {"data": {"name": "tbl"}, "transform": [{"filter": "datum.kind == 'cell'"}], "mark": {"type": "text", "align": "left", "baseline": "middle", "fontSize": 9.3},
       "encoding": {
         "x": {"field": "c", "type": "quantitative", "scale": {"domain": [-0.0703, 3.445], "nice": false, "zero": false}, "axis": null},
         "y": {"field": "r", "type": "quantitative", "scale": {"domain": [-3.18, 10.51], "reverse": true, "nice": false, "zero": false}, "axis": null},
         "text": {"field": "label"}}},
      {"data": {"name": "tbl"}, "transform": [{"filter": "datum.kind == 'head'"}], "mark": {"type": "text", "align": "left", "baseline": "middle", "fontWeight": "bold", "fontSize": 9.5},
       "encoding": {
         "x": {"field": "c", "type": "quantitative", "scale": {"domain": [-0.0703, 3.445], "nice": false, "zero": false}, "axis": null},
         "y": {"field": "r", "type": "quantitative", "scale": {"domain": [-3.18, 10.51], "reverse": true, "nice": false, "zero": false}, "axis": null},
         "text": {"field": "label"}}},
      {"data": {"values": [{}]}, "mark": {"type": "rule", "color": "#111", "strokeWidth": 1.3},
       "encoding": {
         "x": {"datum": -0.05, "type": "quantitative", "scale": {"domain": [-0.0703, 3.445], "nice": false, "zero": false}, "axis": null},
         "x2": {"datum": 2.7},
         "y": {"datum": 0.04, "type": "quantitative", "scale": {"domain": [-3.18, 10.51], "reverse": true, "nice": false, "zero": false}, "axis": null}}},
      {"data": {"values": [{}]}, "mark": {"type": "rule", "color": "#111", "strokeWidth": 1.3},
       "encoding": {
         "x": {"datum": -0.02, "type": "quantitative", "scale": {"domain": [-0.0703, 3.445], "nice": false, "zero": false}, "axis": null},
         "x2": {"datum": 2.75},
         "y": {"datum": 5.4, "type": "quantitative", "scale": {"domain": [-3.18, 10.51], "reverse": true, "nice": false, "zero": false}, "axis": null}}}
    ]
  },
  {
    "width": 203, "height": 166,
    "title": {"text": "Overall survival", "subtitle": "(Predicted by stage)", "frame": "group", "fontSize": 11, "subtitleFontSize": 10.7, "subtitlePadding": 2, "offset": -18},
    "layer": [
      {"data": {"name": "surv"}, "transform": [{"filter": "datum.p == 'B'"}], "mark": {"type": "line", "interpolate": "step-after", "strokeWidth": 1.5},
       "encoding": {
         "x": {"field": "t", "type": "quantitative", "title": "Survival time in years", "scale": {"domain": [-0.045, 9.02], "nice": false, "zero": false},
               "axis": {"values": [0, 2, 4, 6, 8], "labelOverlap": false, "labelPadding": 5, "titlePadding": 4}},
         "y": {"field": "s", "type": "quantitative", "title": "Overal survival", "scale": {"domain": [-0.035, 1.04], "nice": false, "zero": false},
               "axis": {"values": [0, 0.2, 0.4, 0.6, 0.8, 1], "tickCount": 6, "format": ".1f", "labelOverlap": false, "labelPadding": 4, "titlePadding": 1}},
         "color": {"field": "g", "type": "nominal", "scale": {"domain": ["Stage I", "Stage II", "Stage III"], "range": ["#6f9a33", "#3a6e9a", "#9e1a1d"]},
                   "legend": {"orient": "none", "legendX": 123, "legendY": 113.5, "rowPadding": -1, "title": null}}}},
      {"data": {"name": "surv"}, "transform": [{"filter": "datum.p == 'B' && datum.c == 1"}], "mark": {"type": "point", "shape": "M-1,0L1,0M0,-1L0,1", "filled": false, "size": 28, "strokeWidth": 1.1, "opacity": 1},
       "encoding": {
         "x": {"field": "t", "type": "quantitative", "title": "Survival time in years", "scale": {"domain": [-0.045, 9.02], "nice": false, "zero": false}},
         "y": {"field": "s", "type": "quantitative", "title": "Overal survival", "scale": {"domain": [-0.035, 1.04], "nice": false, "zero": false}},
         "color": {"field": "g", "type": "nominal", "scale": {"domain": ["Stage I", "Stage II", "Stage III"], "range": ["#6f9a33", "#3a6e9a", "#9e1a1d"]}, "legend": null}}},
      {"data": {"values": [{}]}, "mark": {"type": "text", "text": "B", "fontWeight": "bold", "fontSize": 14, "align": "center", "baseline": "middle"},
       "encoding": {
         "x": {"datum": -1.27, "type": "quantitative", "scale": {"domain": [-0.045, 9.02], "nice": false, "zero": false}},
         "y": {"datum": 1.163, "type": "quantitative", "scale": {"domain": [-0.035, 1.04], "nice": false, "zero": false}}}}
    ]
  }
  ]
 },
 {
  "bounds": "flush",
  "spacing": 43,
  "resolve": {"scale": {"strokeDash": "independent"}, "legend": {"strokeDash": "independent"}},
  "hconcat": [
  {
    "width": 193, "height": 167,
    "title": {"text": "Overall survival", "subtitle": "(Predicted by stage and signature proteins)", "frame": "group", "fontSize": 13, "subtitleFontSize": 10.6, "subtitlePadding": 2.7, "offset": -27},
    "layer": [
      {"data": {"name": "surv"}, "transform": [{"filter": "datum.p == 'C'"}], "mark": {"type": "line", "interpolate": "step-after", "strokeWidth": 1.4, "color": "#6f9a33"},
       "encoding": {
         "x": {"field": "t", "type": "quantitative", "title": "Survival time in years", "scale": {"domain": [-0.03, 9.2], "nice": false, "zero": false},
               "axis": {"values": [0, 2, 4, 6, 8], "labelOverlap": false, "labelFontSize": 8.7, "labelPadding": 2.5, "titlePadding": 9}},
         "y": {"field": "s", "type": "quantitative", "title": "Overal survival", "scale": {"domain": [-0.04, 1.04], "nice": false, "zero": false},
               "axis": {"values": [0, 0.2, 0.4, 0.6, 0.8, 1], "tickCount": 6, "format": ".1f", "labelOverlap": false, "labelFontSize": 8.7, "labelPadding": 3, "titlePadding": 8}},
         "strokeDash": {"field": "g", "type": "nominal", "title": "Stage I", "scale": {"domain": ["Low risk group", "High risk group"], "range": [[1.5, 1.8], [5, 3]]},
                        "legend": {"orient": "none", "legendX": 33, "legendY": 102, "symbolStrokeColor": "#6f9a33"}}}},
      {"data": {"name": "surv"}, "transform": [{"filter": "datum.p == 'C' && datum.c == 1"}], "mark": {"type": "point", "shape": "M-1,0L1,0M0,-1L0,1", "filled": false, "size": 28, "strokeWidth": 1.1, "opacity": 1, "color": "#6f9a33"},
       "encoding": {
         "x": {"field": "t", "type": "quantitative", "title": "Survival time in years", "scale": {"domain": [-0.03, 9.2], "nice": false, "zero": false}},
         "y": {"field": "s", "type": "quantitative", "title": "Overal survival", "scale": {"domain": [-0.04, 1.04], "nice": false, "zero": false}}}},
      {"data": {"values": [{}]}, "mark": {"type": "text", "text": "C", "fontWeight": "bold", "fontSize": 14, "align": "center", "baseline": "middle"},
       "encoding": {
         "x": {"datum": -1.3, "type": "quantitative", "scale": {"domain": [-0.03, 9.2], "nice": false, "zero": false}},
         "y": {"datum": 1.217, "type": "quantitative", "scale": {"domain": [-0.04, 1.04], "nice": false, "zero": false}}}}
    ]
  },
  {
    "width": 195, "height": 167,
    "title": {"text": "Overall survival", "subtitle": "(Predicted by stage and signature proteins)", "frame": "group", "fontSize": 13, "subtitleFontSize": 10.6, "subtitlePadding": 2.7, "offset": -27},
    "layer": [
      {"data": {"name": "surv"}, "transform": [{"filter": "datum.p == 'D'"}], "mark": {"type": "line", "interpolate": "step-after", "strokeWidth": 1.4, "color": "#3a6e9a"},
       "encoding": {
         "x": {"field": "t", "type": "quantitative", "title": "Survival time in years", "scale": {"domain": [-0.08, 9.23], "nice": false, "zero": false},
               "axis": {"values": [0, 2, 4, 6, 8], "labelOverlap": false, "labelFontSize": 8.7, "labelPadding": 2.5, "titlePadding": 9}},
         "y": {"field": "s", "type": "quantitative", "title": "Overal survival", "scale": {"domain": [-0.04, 1.04], "nice": false, "zero": false},
               "axis": {"values": [0, 0.2, 0.4, 0.6, 0.8, 1], "tickCount": 6, "format": ".1f", "labelOverlap": false, "labelFontSize": 8.7, "labelPadding": 3, "titlePadding": 8}},
         "strokeDash": {"field": "g", "type": "nominal", "title": "Stage II", "scale": {"domain": ["Low risk group", "High risk group"], "range": [[1.5, 1.8], [5, 3]]},
                        "legend": {"orient": "none", "legendX": 37, "legendY": 101.5, "symbolStrokeColor": "#3a6e9a"}}}},
      {"data": {"name": "surv"}, "transform": [{"filter": "datum.p == 'D' && datum.c == 1"}], "mark": {"type": "point", "shape": "M-1,0L1,0M0,-1L0,1", "filled": false, "size": 28, "strokeWidth": 1.1, "opacity": 1, "color": "#3a6e9a"},
       "encoding": {
         "x": {"field": "t", "type": "quantitative", "title": "Survival time in years", "scale": {"domain": [-0.08, 9.23], "nice": false, "zero": false}},
         "y": {"field": "s", "type": "quantitative", "title": "Overal survival", "scale": {"domain": [-0.04, 1.04], "nice": false, "zero": false}}}},
      {"data": {"values": [{}]}, "mark": {"type": "text", "text": "D", "fontWeight": "bold", "fontSize": 14, "align": "center", "baseline": "middle"},
       "encoding": {
         "x": {"datum": -1.32, "type": "quantitative", "scale": {"domain": [-0.08, 9.23], "nice": false, "zero": false}},
         "y": {"datum": 1.217, "type": "quantitative", "scale": {"domain": [-0.04, 1.04], "nice": false, "zero": false}}}}
    ]
  },
  {
    "width": 196, "height": 167,
    "title": {"text": "Overall survival", "subtitle": "(Predicted by stage and signature proteins)", "frame": "group", "fontSize": 13, "subtitleFontSize": 10.6, "subtitlePadding": 2.7, "offset": -27},
    "layer": [
      {"data": {"name": "surv"}, "transform": [{"filter": "datum.p == 'E'"}], "mark": {"type": "line", "interpolate": "step-after", "strokeWidth": 1.4, "color": "#9e1a1d"},
       "encoding": {
         "x": {"field": "t", "type": "quantitative", "title": "Survival time in years", "scale": {"domain": [-0.08, 9.25], "nice": false, "zero": false},
               "axis": {"values": [0, 2, 4, 6, 8], "labelOverlap": false, "labelFontSize": 8.7, "labelPadding": 2.5, "titlePadding": 9}},
         "y": {"field": "s", "type": "quantitative", "title": "Overal survival", "scale": {"domain": [-0.04, 1.04], "nice": false, "zero": false},
               "axis": {"values": [0, 0.2, 0.4, 0.6, 0.8, 1], "tickCount": 6, "format": ".1f", "labelOverlap": false, "labelFontSize": 8.7, "labelPadding": 3, "titlePadding": 8}},
         "strokeDash": {"field": "g", "type": "nominal", "title": "Stage III", "scale": {"domain": ["Low risk group", "High risk group"], "range": [[1.5, 1.8], [5, 3]]},
                        "legend": {"orient": "none", "legendX": 35, "legendY": 101, "symbolStrokeColor": "#9e1a1d"}}}},
      {"data": {"name": "surv"}, "transform": [{"filter": "datum.p == 'E' && datum.c == 1"}], "mark": {"type": "point", "shape": "M-1,0L1,0M0,-1L0,1", "filled": false, "size": 28, "strokeWidth": 1.1, "opacity": 1, "color": "#9e1a1d"},
       "encoding": {
         "x": {"field": "t", "type": "quantitative", "title": "Survival time in years", "scale": {"domain": [-0.08, 9.25], "nice": false, "zero": false}},
         "y": {"field": "s", "type": "quantitative", "title": "Overal survival", "scale": {"domain": [-0.04, 1.04], "nice": false, "zero": false}}}},
      {"data": {"values": [{}]}, "mark": {"type": "text", "text": "E", "fontWeight": "bold", "fontSize": 14, "align": "center", "baseline": "middle"},
       "encoding": {
         "x": {"datum": -1.08, "type": "quantitative", "scale": {"domain": [-0.08, 9.25], "nice": false, "zero": false}},
         "y": {"datum": 1.217, "type": "quantitative", "scale": {"domain": [-0.04, 1.04], "nice": false, "zero": false}}}}
    ]
  }
  ]
 }
]
}
